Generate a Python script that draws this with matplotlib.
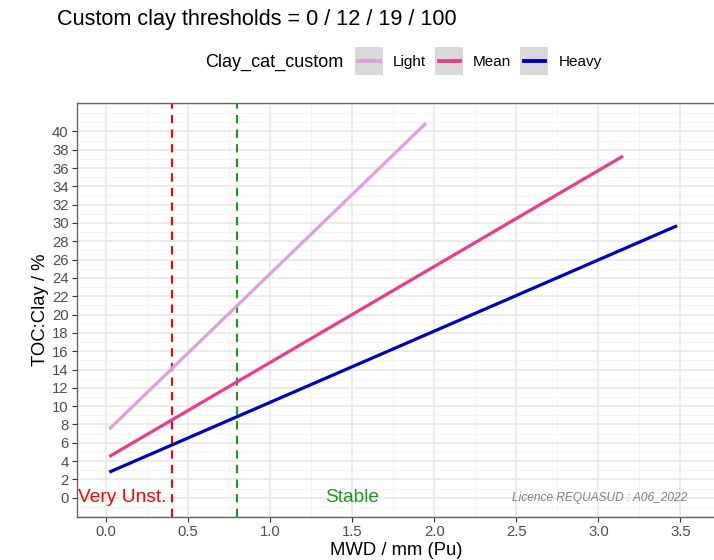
import numpy as np
import matplotlib
matplotlib.use('Agg')
import matplotlib.pyplot as plt
from matplotlib.patches import Rectangle
from matplotlib.lines import Line2D
from matplotlib.legend_handler import HandlerBase
from matplotlib.ticker import MultipleLocator, FixedLocator, FormatStrFormatter

plt.rcParams['font.family'] = ['Liberation Sans', 'DejaVu Sans']

# fitted lines (end points of each segment)
categories = ['Light', 'Mean', 'Heavy']
colors = ['#dda0dd', '#ee3a8c', '#0000cd']
mwd = {'Light': [0.02, 1.95], 'Mean': [0.02, 3.15], 'Heavy': [0.02, 3.48]}
toc_clay = {'Light': [7.5, 40.9], 'Mean': [4.5, 37.3], 'Heavy': [2.8, 29.7]}

# MWD class thresholds
thresholds = [0.4, 0.8]
threshold_colors = ['red', '#1a9a1a']
class_labels = ['Very Unst.', 'Stable']
class_x = [0.1, 1.5]
class_colors = ['red', '#1a9a1a']

y_ticks = np.arange(0, 41, 2)


class KeyHandler(HandlerBase):
    # grey ggplot-like key box with the line drawn across it
    def create_artists(self, legend, orig_handle, xdescent, ydescent,
                       width, height, fontsize, trans):
        box = Rectangle((-xdescent, -ydescent), width, height,
                        facecolor='#d9d9d9', edgecolor='none', transform=trans)
        ymid = -ydescent + height / 2
        line = Line2D([-xdescent + 0.12 * width, -xdescent + 0.88 * width],
                      [ymid, ymid], color=orig_handle.get_color(), lw=2.8,
                      transform=trans)
        return [box, line]


fig = plt.figure(figsize=(7.14, 5.6), dpi=100)
ax = fig.add_axes([77/714, 1 - 517/560, (716-77)/714, (517-103)/560])

ax.set_xlim(-0.177, 3.717)
ax.set_ylim(-2.1, 43.1)
ax.xaxis.set_major_locator(MultipleLocator(0.5))
ax.xaxis.set_minor_locator(MultipleLocator(0.25))
ax.yaxis.set_major_locator(FixedLocator(y_ticks))
ax.yaxis.set_minor_locator(MultipleLocator(1))
ax.grid(which='major', color='#e8e8e8', lw=1.2)
ax.grid(which='minor', color='#f2f2f2', lw=0.6)
ax.set_axisbelow(True)
ax.xaxis.set_major_formatter(FormatStrFormatter('%.1f'))
ax.tick_params(which='major', length=3.5, width=0.8, color='#333333',
               labelcolor='#4d4d4d', labelsize=10.7, pad=2.5)
ax.tick_params(which='minor', length=0)
for s in ax.spines.values():
    s.set_color('#666666')
    s.set_linewidth(1.0)

for xv, c in zip(thresholds, threshold_colors):
    ax.axvline(xv, color=c, lw=1.5, ls=(0, (4, 3)), zorder=2)

lines = []
for cat, c in zip(categories, colors):
    ln, = ax.plot(mwd[cat], toc_clay[cat], color=c, lw=2.3,
                  solid_capstyle='butt', zorder=3)
    lines.append(ln)

for lab, xv, c in zip(class_labels, class_x, class_colors):
    ax.text(xv, 0, lab, color=c, fontsize=13.8, ha='center', va='center')
ax.text(3.54, 0, 'Licence REQUASUD : A06_2022', color='#808080', fontsize=8.6,
        style='italic', ha='right', va='center')

ax.set_xlabel('MWD / mm (Pu)', fontsize=13.3, labelpad=2)
ax.set_ylabel('TOC:Clay / %', fontsize=13.3, labelpad=2)

fig.text(57/714, 1 - 20/560, 'Custom clay thresholds = 0 / 12 / 19 / 100',
         fontsize=15.6, ha='left', va='center')

# legend: title on the left, keys in one row
fig.text(205/714, 1 - 62/560, 'Clay_cat_custom', fontsize=13, ha='left', va='center')
fig.legend(lines, categories, handler_map={Line2D: KeyHandler()},
           ncol=3, frameon=False, loc='center left',
           bbox_to_anchor=(355/714, 1 - 61/560), fontsize=11,
           handlelength=1.83, handleheight=2.44, handletextpad=0.65,
           columnspacing=0.6, borderaxespad=0, borderpad=0)

plt.savefig('out.png', dpi=100)
